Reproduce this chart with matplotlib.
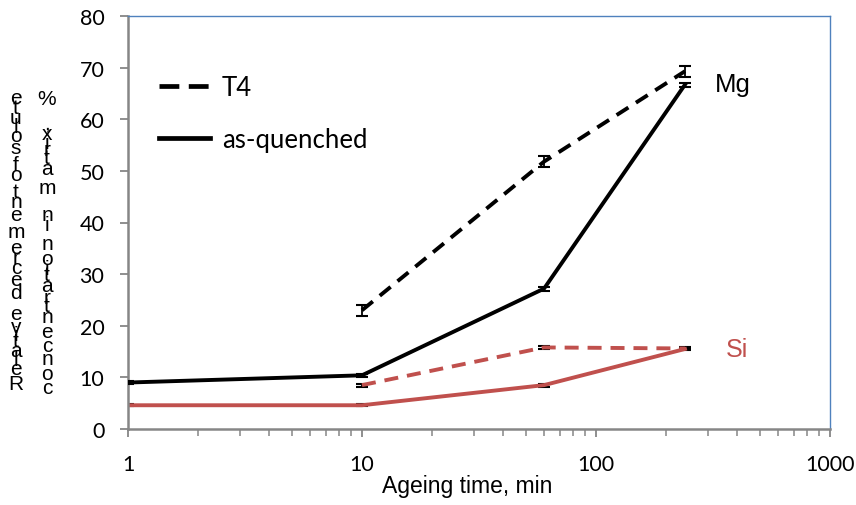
import matplotlib
matplotlib.use("Agg")
import matplotlib.pyplot as plt
from matplotlib.lines import Line2D
from matplotlib.font_manager import FontProperties
from matplotlib.textpath import text_to_path

# ageing times (min) and solute decrease (%) for each alloy state
t_aq = [1, 10, 60, 240]
t_t4 = [10, 60, 240]

mg_aq = [9.0, 10.4, 27.2, 66.7]
mg_aq_err = [0.3, 0.3, 0.4, 0.4]
mg_t4 = [23.0, 51.8, 69.3]
mg_t4_err = [1.1, 1.0, 1.1]

si_aq = [4.6, 4.6, 8.5, 15.5]
si_aq_err = [0.2, 0.2, 0.3, 0.2]
si_t4 = [8.5, 15.8, 15.6]
si_t4_err = [0.3, 0.3, 0.2]

ylabel_lines = ["Relative decrement of solute", "concentration in matrix, %"]

BLACK = "black"
RED = "#C0504D"
GRAY = "#868686"
BLUE = "#4F81BD"
W, H = 856, 506

fig = plt.figure(figsize=(W / 100, H / 100), dpi=100)
ax = fig.add_axes([128 / W, 1 - 430 / H, (830 - 128) / W, (430 - 17) / H])

lw = 2.8
dash = (3.6, 2.3)
eb = dict(capsize=4, elinewidth=1.3, capthick=1.5, ecolor=BLACK)
ax.errorbar(t_aq, mg_aq, yerr=mg_aq_err, color=BLACK, lw=lw, zorder=3, **eb)
ax.errorbar(t_t4, mg_t4, yerr=mg_t4_err, color=BLACK, lw=lw, dashes=dash,
            zorder=3, **eb)
ax.errorbar(t_aq, si_aq, yerr=si_aq_err, color=RED, lw=lw, zorder=2, **eb)
ax.errorbar(t_t4, si_t4, yerr=si_t4_err, color=RED, lw=lw, dashes=dash,
            zorder=2, **eb)

ax.set_xscale("log")
ax.set_xlim(1, 1000)
ax.set_ylim(0, 80)
ax.set_yticks(range(0, 81, 10))
ax.set_xticks([1, 10, 100, 1000])
ax.set_xticklabels(["1", "10", "100", "1000"])

for s in ["left", "bottom"]:
    ax.spines[s].set_color(GRAY)
    ax.spines[s].set_linewidth(1.8)
for s in ["top", "right"]:
    ax.spines[s].set_color(BLUE)
    ax.spines[s].set_linewidth(1.0)

ax.tick_params(axis="both", which="major", direction="out", length=6, width=1.3,
               color=GRAY, labelsize=15.5)
ax.tick_params(axis="y", pad=11, right=False)
ax.tick_params(axis="x", which="major", pad=12)
ax.tick_params(axis="x", which="minor", direction="out", length=5, width=1.1, color=GRAY)
ax.tick_params(axis="x", which="both", top=False)
for lab in ax.get_xticklabels() + ax.get_yticklabels():
    lab.set_fontfamily("Lato")

ax.set_xlabel("Ageing time, min", fontsize=16.5, family="Liberation Sans")
ax.xaxis.set_label_coords((467 - 128) / 702, -(487 - 430) / 413)
ax.xaxis.label.set_va("center")

ax.text(322, 66.8, "Mg", fontsize=18.5, family="Liberation Sans", color=BLACK,
        va="center")
ax.text(360, 15.5, "Si", fontsize=18, family="Liberation Sans", color=RED,
        va="center")

# legend for the two heat-treatment states
handles = [Line2D([], [], color=BLACK, lw=3.4, dashes=(4.2, 2.0)),
           Line2D([], [], color=BLACK, lw=3.4)]
ax.legend(handles, ["T4", "as-quenched"], loc="upper left",
          bbox_to_anchor=(0.011, 0.914), frameon=False,
          prop=FontProperties(family="Lato", size=18.5),
          handlelength=2.0, handletextpad=0.45, labelspacing=1.05)

# y label drawn as upright glyphs stacked along the axis
fp = FontProperties(family="Liberation Sans", size=15)
cols = [(16, 393, 92), (47, 395, 88)]
for text, (xc, ybot, ytop) in zip(ylabel_lines, cols):
    widths = [text_to_path.get_text_width_height_descent(c, fp, ismath=False)[0]
              if c != " " else 5.0 for c in text]
    total = sum(widths)
    pos = 0.0
    for c, w in zip(text, widths):
        centre = pos + w / 2
        y = ybot - (ybot - ytop) * centre / total
        if c != " ":
            fig.text(xc / W, 1 - y / H, c, fontproperties=fp,
                     ha="center", va="center")
        pos += w

fig.savefig("out.png", dpi=100)
